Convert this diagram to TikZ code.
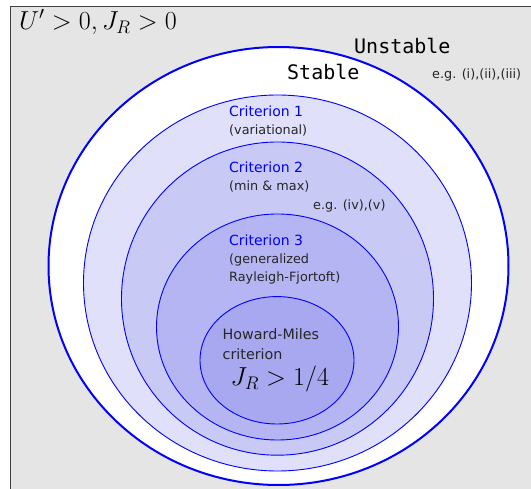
\RequirePackage{fix-cm}
\documentclass[tikz,border=0pt]{standalone}
\usepackage{fontspec}
\setsansfont{DejaVu Sans}
\newfontfamily\monofnt{DejaVu Sans Mono}
\definecolor{bggray}{HTML}{E5E5E5}
\definecolor{framegray}{HTML}{404040}
\definecolor{cOne}{HTML}{E0E0FB}
\definecolor{cTwo}{HTML}{C9C9F6}
\definecolor{cThree}{HTML}{B5B5F3}
\definecolor{cHM}{HTML}{A8A8F0}
\definecolor{critblue}{HTML}{0000FF}
\begin{document}
\begin{tikzpicture}[x=1pt,y=-1pt,
  region/.style={draw=critblue,line width=0.9pt},
  title/.style={anchor=base west,inner sep=0pt,text=critblue,font=\sffamily\fontsize{14}{16}\selectfont},
  sub/.style={anchor=base west,inner sep=0pt,text=black!85,font=\sffamily\fontsize{12.8}{15}\selectfont},
  hm/.style={anchor=base west,inner sep=0pt,text=black!85,font=\sffamily\fontsize{14.3}{16}\selectfont},
  mono/.style={anchor=base west,inner sep=0pt,font=\monofnt\fontsize{20}{22}\selectfont},
  bigmath/.style={anchor=base west,inner sep=0pt,font=\fontsize{26}{30}\selectfont}]
\useasboundingbox (0,0) rectangle (531,489);
\fill[white] (0,0) rectangle (531,489);
\draw[fill=bggray,draw=framegray,line width=1pt] (10,6.5) rectangle (560,520);
% regions
\draw[fill=white,draw=critblue,line width=2pt] (278.5,266) ellipse [x radius=230,y radius=219];
\draw[region,fill=cOne] (277.5,283) ellipse [x radius=194,y radius=188];
\draw[region,fill=cTwo] (277.5,298.6) ellipse [x radius=156,y radius=156.6];
\draw[region,fill=cThree] (277.5,327) ellipse [x radius=121,y radius=113];
\draw[region,fill=cHM] (277,360.3) ellipse [x radius=77,y radius=63.7];
% texts
\node[bigmath] (cond) at (19,29.3) {$U'>0, J_R>0$};
\node[mono] (unst) at (354,53.3) {Unstable};
\node[mono] (stab) at (287,79.3) {Stable};
\node[sub] (eg1) at (432,78.5) {e.g. (i),(ii),(iii)};
\node[title] (c1) at (229,116.5) {Criterion 1};
\node[sub] (c1s) at (229,135) {(variational)};
\node[title] (c2) at (229,172.3) {Criterion 2};
\node[sub] (c2s) at (229,190.6) {(min \& max)};
\node[sub] (eg2) at (313,210) {e.g. (iv),(v)};
\node[title] (c3) at (229,245.7) {Criterion 3};
\node[sub] (c3a) at (229,264) {(generalized};
\node[sub] (c3b) at (229,282) {Rayleigh-Fjortoft)};
\node[hm] (hm1) at (222.5,339.3) {Howard-Miles};
\node[hm] (hm2) at (222.5,360) {criterion};
\node[bigmath] (jr) at (230.5,386) {$J_R>1/4$};
\end{tikzpicture}
\end{document}
